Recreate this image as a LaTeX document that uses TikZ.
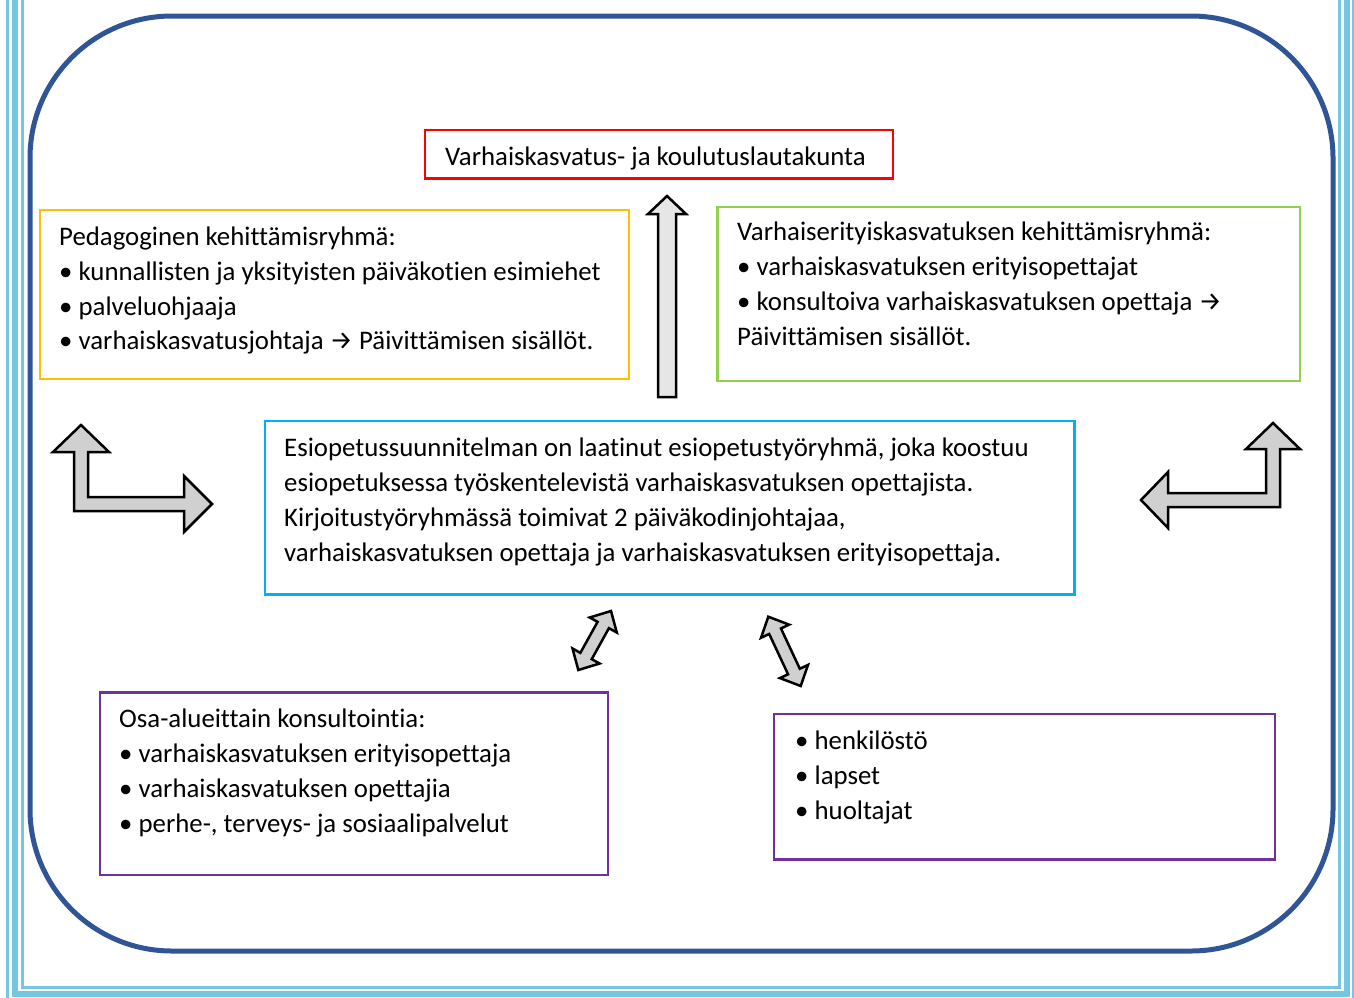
\documentclass[tikz,border=0pt]{standalone}
\usepackage{fontspec}
\setmainfont{Carlito}[Ligatures=NoCommon]
\newfontfamily\symf{Fira Sans}
\usetikzlibrary{calc}
\definecolor{pageblue}{HTML}{75C6E1}
\definecolor{frameblue}{HTML}{2F5597}
\definecolor{boxred}{HTML}{FF0000}
\definecolor{boxorange}{HTML}{FFC000}
\definecolor{boxgreen}{HTML}{92D050}
\definecolor{boxcyan}{HTML}{00B0F0}
\definecolor{boxpurple}{HTML}{7030A0}
\definecolor{arrowgray}{HTML}{D0D0D0}
\definecolor{arrowlight}{HTML}{E6E6E6}
\newcommand\rarr{{\symf\fontsize{26bp}{26bp}\selectfont →}}
\newcommand\dblarr[2]{%
  \coordinate (hb1) at ($(#2)!16bp!(#1)$);
  \coordinate (hb2) at ($(#1)!16bp!(#2)$);
  \filldraw[blockarrow]
    (#2) -- ($(hb1)!15.5bp!90:(#2)$) -- ($(hb1)!6.5bp!90:(#2)$)
    -- ($(hb2)!6.5bp!-90:(#1)$) -- ($(hb2)!15.5bp!-90:(#1)$)
    -- (#1) -- ($(hb2)!15.5bp!90:(#1)$) -- ($(hb2)!6.5bp!90:(#1)$)
    -- ($(hb1)!6.5bp!-90:(#2)$) -- ($(hb1)!15.5bp!-90:(#2)$) -- cycle;}
\begin{document}
\begin{tikzpicture}[x=1bp,y=-1bp,
  txt/.style={anchor=base west, inner sep=0pt, font=\fontsize{26.8bp}{35bp}\selectfont},
  boxnode/.style={draw=#1, line width=2.5bp, inner sep=0pt, anchor=north west},
  blockarrow/.style={fill=arrowgray, draw=black, line width=2.5bp, line join=miter},
  pageline/.style={draw=pageblue, line width=#1}]
\useasboundingbox (0,0) rectangle (1354,997);
\clip (0,0) rectangle (1354,997);
% page border
\draw[pageline=3bp] (7.5,-20) -- (7.5,1001.5) -- (1353.5,1001.5) -- (1353.5,-20);
\draw[pageline=6bp] (15,-20) -- (15,994) -- (1347,994) -- (1347,-20);
\draw[pageline=3bp] (22.5,-20) -- (22.5,987.5) -- (1339.5,987.5) -- (1339.5,-20);
% rounded frame
\draw[frameblue, line width=5bp, rounded corners=142bp] (30,16) rectangle (1333,951);
% boxes
\node[boxnode=boxred, minimum width=468bp, minimum height=48.5bp] (board) at (423.5,128.5) {};
\node[boxnode=boxorange, minimum width=589bp, minimum height=169bp] (ped) at (38.7,208.7) {};
\node[boxnode=boxgreen, minimum width=582.5bp, minimum height=174bp] (spec) at (716,205.5) {};
\node[boxnode=boxcyan, minimum width=809.3bp, minimum height=173.5bp] (pre) at (263.7,419.5) {};
\node[boxnode=boxpurple, minimum width=508bp, minimum height=182.4bp] (cons) at (98.7,691.3) {};
\node[boxnode=boxpurple, minimum width=501bp, minimum height=145.5bp] (people) at (772.5,712.5) {};
% texts
\node[txt] (t0) at (445,165) {Varhaiskasvatus- ja koulutuslautakunta};
\node[txt] (p1) at (59,245) {Pedagoginen kehittämisryhmä:};
\node[txt] (p2) at (59,280.5) {• kunnallisten ja yksityisten päiväkotien esimiehet};
\node[txt] (p3) at (59,315) {• palveluohjaaja};
\node[txt] (p4) at (59,349.5) {• varhaiskasvatusjohtaja \rarr{} Päivittämisen sisällöt.};
\node[txt] (g1) at (737,240) {Varhaiserityiskasvatuksen kehittämisryhmä:};
\node[txt] (g2) at (737,275) {• varhaiskasvatuksen erityisopettajat};
\node[txt] (g3) at (737,310) {• konsultoiva varhaiskasvatuksen opettaja \rarr};
\node[txt] (g4) at (737,345) {Päivittämisen sisällöt.};
\node[txt] (c1) at (284,456) {Esiopetussuunnitelman on laatinut esiopetustyöryhmä, joka koostuu};
\node[txt] (c2) at (284,491.5) {esiopetuksessa työskentelevistä varhaiskasvatuksen opettajista.};
\node[txt] (c3) at (284,526.5) {Kirjoitustyöryhmässä toimivat 2 päiväkodinjohtajaa,};
\node[txt] (c4) at (284,561.5) {varhaiskasvatuksen opettaja ja varhaiskasvatuksen erityisopettaja.};
\node[txt] (k1) at (119,727) {Osa-alueittain konsultointia:};
\node[txt] (k2) at (119,762) {• varhaiskasvatuksen erityisopettaja};
\node[txt] (k3) at (119,797) {• varhaiskasvatuksen opettajia};
\node[txt] (k4) at (119,832) {• perhe-, terveys- ja sosiaalipalvelut};
\node[txt] (h1) at (795,749) {• henkilöstö};
\node[txt] (h2) at (795,784) {• lapset};
\node[txt] (h3) at (795,819) {• huoltajat};
% up arrow
\filldraw[blockarrow, fill=arrowlight] (667,196) -- (686,214) -- (676,214) -- (676,397) -- (658,397) -- (658,214) -- (648,214) -- cycle;
% left L arrow
\filldraw[blockarrow] (81,425) -- (109,452) -- (88,452) -- (88,497) -- (184,497) -- (184,476) -- (212,504) -- (184,532) -- (184,511) -- (74,511) -- (74,452) -- (53,452) -- cycle;
% right L arrow
\filldraw[blockarrow] (1273,423) -- (1300,449) -- (1280,449) -- (1280,507) -- (1168,507) -- (1168,528) -- (1141,500) -- (1168,472) -- (1168,493) -- (1266,493) -- (1266,449) -- (1246,449) -- cycle;
% double arrows
\coordinate (da1) at (578.3,670);
\coordinate (da2) at (611,611);
\coordinate (db1) at (768.3,616.7);
\coordinate (db2) at (800.7,686);
\dblarr{da1}{da2}
\dblarr{db1}{db2}
\end{tikzpicture}
\end{document}
